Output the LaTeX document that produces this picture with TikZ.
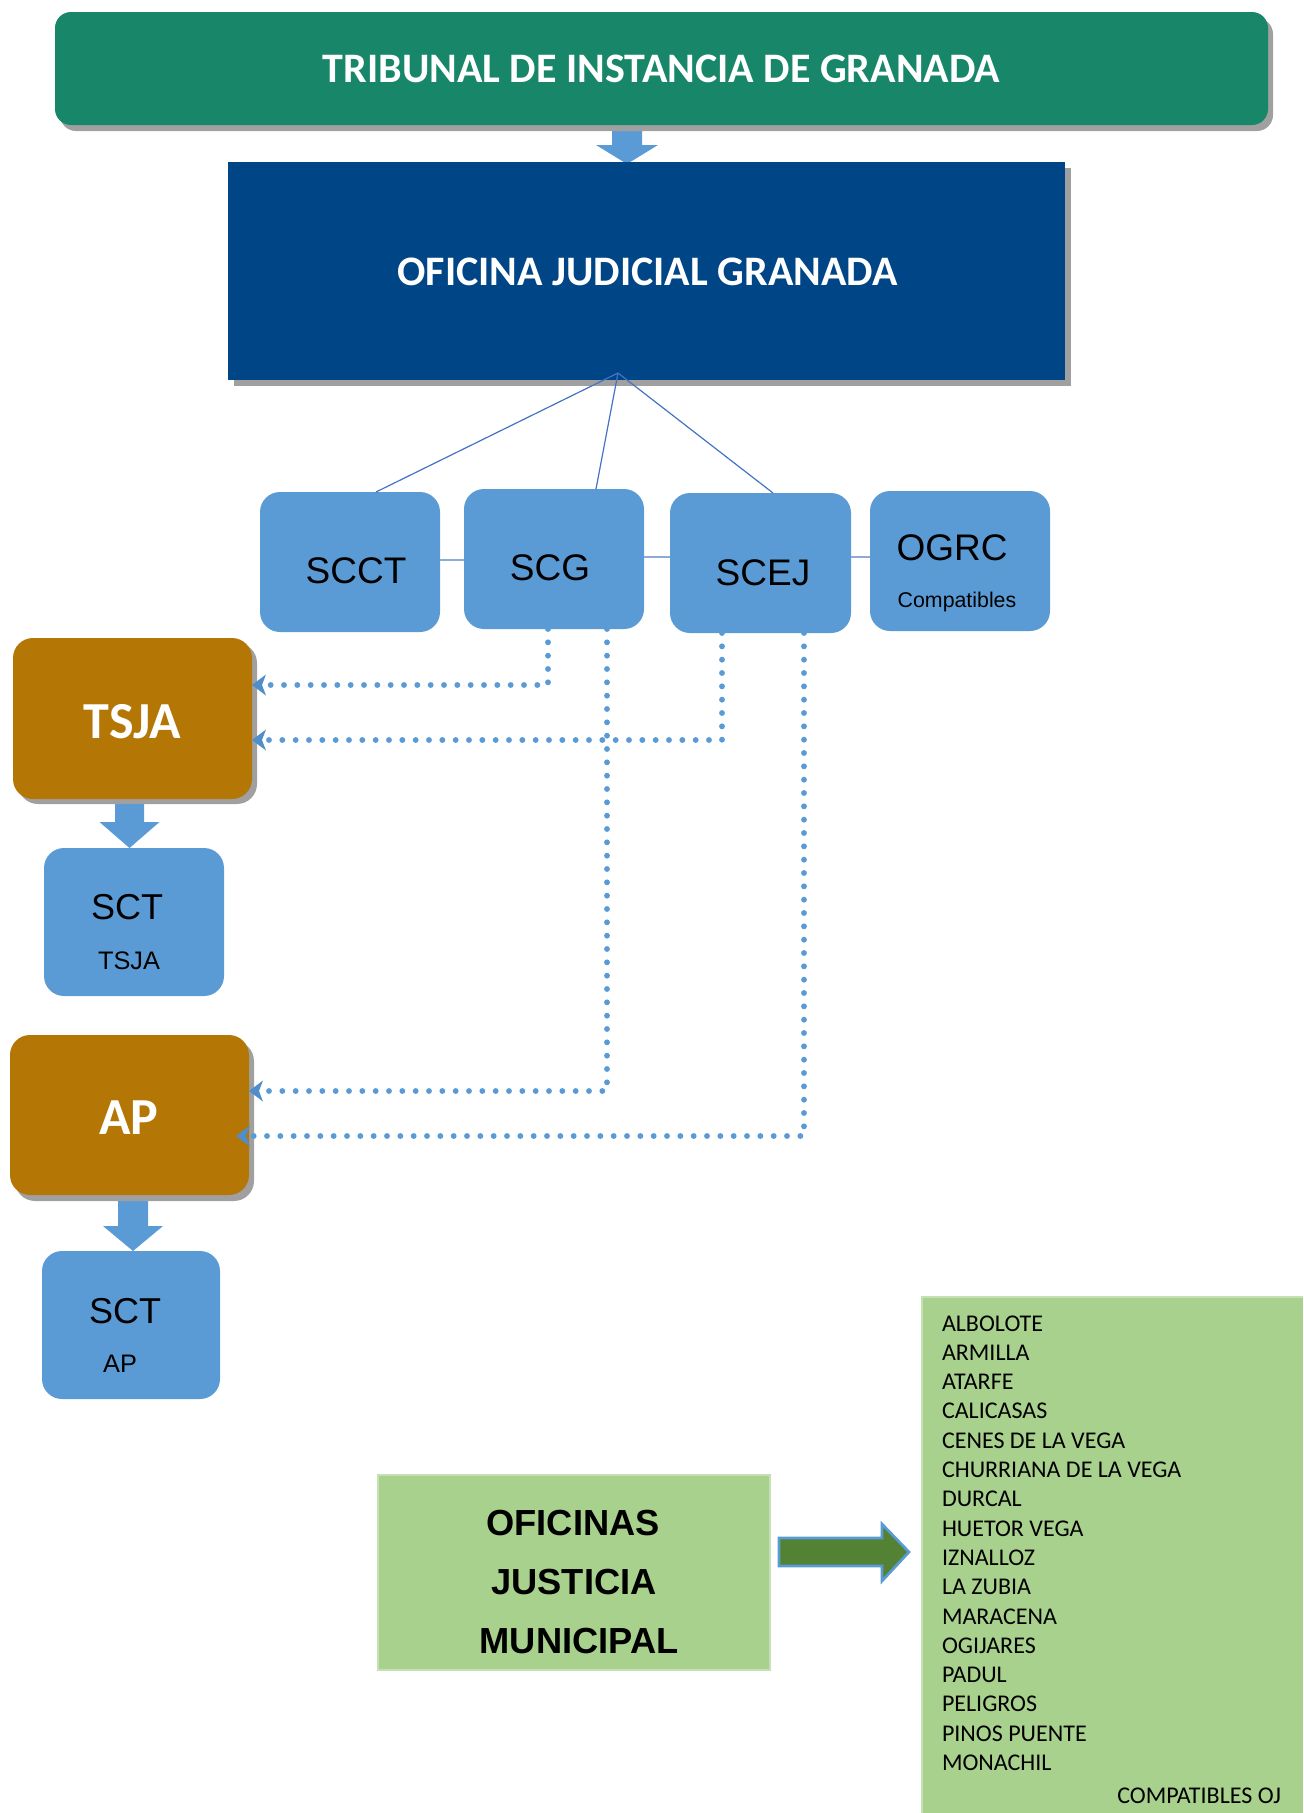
\documentclass[tikz,border=0pt]{standalone}
\usepackage{fontspec}
\newfontfamily\carl{Carlito}
\newfontfamily\arl{Liberation Sans}
\usetikzlibrary{shadows,calc}
\pgfdeclarelayer{bg}
\pgfsetlayers{bg,main}
\definecolor{tgreen}{HTML}{178669}
\definecolor{navy}{HTML}{004586}
\definecolor{lblue}{HTML}{5B9BD5}
\definecolor{tipblue}{HTML}{4F8ECA}
\definecolor{ochre}{HTML}{B47706}
\definecolor{shgray}{HTML}{A0A0A0}
\definecolor{lgreen}{HTML}{A9D18E}
\definecolor{lgborder}{HTML}{C5E0B4}
\definecolor{dgreen}{HTML}{548235}
\definecolor{lineblue}{HTML}{4472C4}
\definecolor{hlinec}{HTML}{8EAADB}
\begin{document}
\begin{tikzpicture}[x=0.75pt,y=-0.75pt,
  sz/.style 2 args={minimum width=#1*0.75pt, minimum height=#2*0.75pt, inner sep=0pt, outer sep=0pt},
  shad/.style 2 args={drop shadow={shadow xshift=#1*0.75pt, shadow yshift=-#2*0.75pt, fill=shgray, opacity=1}},
  sbox/.style={fill=lblue, rounded corners=15pt},
  ochbox/.style={fill=ochre, rounded corners=15pt},
  txt/.style={inner sep=0pt, outer sep=0pt, anchor=base},
  thinline/.style={draw=lineblue, line width=0.9pt},
  hconn/.style={draw=hlinec, line width=1.2pt},
  dotline/.style={draw=lblue, line width=4.4pt, line cap=round, dash pattern=on 0pt off 10pt},
  tipst/.style={fill=tipblue},
  bigw/.style={text=white, font=\carl\bfseries\fontsize{31.5}{36}\selectfont},
  ochw/.style={text=white, font=\carl\bfseries\fontsize{39}{44}\selectfont},
  sname/.style={font=\arl\fontsize{27.75}{32}\selectfont},
  ssub/.style={font=\arl\fontsize{19}{22}\selectfont},
  ojmtxt/.style={font=\arl\bfseries\fontsize{27.2}{32}\selectfont},
  itemtxt/.style={font=\carl\fontsize{18}{22}\selectfont}
]
\useasboundingbox (0,0) rectangle (1303,1813);

% boxes
\node[sz={1213}{113}, fill=tgreen, rounded corners=12pt, shad={5}{6}] (trib) at (661.5,68.5) {};
\node[sz={837}{218}, fill=navy, shad={6}{6}] (ojg) at (646.5,271) {};
\node[sz={180}{140}, sbox] (scct) at (350,562) {};
\node[sz={180}{140}, sbox] (scg) at (554,559) {};
\node[sz={181}{140}, sbox] (scej) at (760.5,563) {};
\node[sz={180}{140}, sbox] (ogrc) at (960,561) {};
\node[sz={239}{161}, ochbox, shad={5}{5}] (tsja) at (132.5,718.5) {};
\node[sz={180}{148}, sbox] (sct1) at (134,922) {};
\node[sz={239}{160}, ochbox, shad={5}{6}] (ap) at (129.5,1115) {};
\node[sz={178}{148}, sbox] (sct2) at (131,1325) {};
\node[sz={392}{195}, fill=lgreen, draw=lgborder, line width=1.5pt] (ojm) at (574,1572.5) {};
\node[sz={381}{516}, fill=lgreen] (list) at (1112.5,1555) {};
\draw[lgborder, line width=2pt] (list.south west) -- (list.north west) -- (list.north east);

% texts
\node[txt, bigw] (tribt) at (661.5,82.7) {TRIBUNAL DE INSTANCIA DE GRANADA};
\node[txt, bigw] (ojgt) at (647.5,285) {OFICINA JUDICIAL GRANADA};
\node[txt, sname] (scctt) at (356,583) {SCCT};
\node[txt, sname] (scgt) at (550,580) {SCG};
\node[txt, sname] (scejt) at (763,585) {SCEJ};
\node[txt, sname] (ogrct) at (952,560.7) {OGRC};
\node[txt, font=\arl\fontsize{16}{19}\selectfont] (compt) at (957,607) {Compatibles};
\node[txt, ochw] (tsjat) at (132.5,738) {TSJA};
\node[txt, font=\arl\fontsize{27}{32}\selectfont] (sct1t) at (127,919) {SCT};
\node[txt, ssub] (sct1s) at (129,969) {TSJA};
\node[txt, ochw] (apt) at (129,1134) {AP};
\node[txt, font=\arl\fontsize{27}{32}\selectfont] (sct2t) at (125,1323) {SCT};
\node[txt, ssub] (sct2s) at (120,1372) {AP};
\node[txt, ojmtxt] (ojm1) at (573,1535.6) {OFICINAS};
\node[txt, ojmtxt] (ojm2) at (574,1594.4) {JUSTICIA};
\node[txt, ojmtxt] (ojm3) at (579,1653.9) {MUNICIPAL};
\foreach \t [count=\i from 0] in {ALBOLOTE,ARMILLA,ATARFE,CALICASAS,CENES DE LA VEGA,CHURRIANA DE LA VEGA,DURCAL,HUETOR VEGA,IZNALLOZ,LA ZUBIA,MARACENA,OGIJARES,PADUL,PELIGROS,PINOS PUENTE,MONACHIL}
  \node[txt, anchor=base west, itemtxt] (item\i) at (942,{1331+29.3*\i}) {\t};
\node[txt, anchor=base east, itemtxt] (compoj) at (1281,1803) {COMPATIBLES OJ};

% block arrows (behind boxes)
\begin{pgfonlayer}{bg}
\coordinate (a1s) at ($(trib.south)+(-34.5,4)$);
\coordinate (a1e) at ($(ojg.north)+(-19.5,2)$);
\fill[lblue] ($(a1s)+(-15,0)$) -- ($(a1s)+(15,0)$) -- ($(a1e)+(15,-19)$) -- ($(a1e)+(31,-19)$) -- (a1e) -- ($(a1e)+(-31,-19)$) -- ($(a1e)+(-15,-19)$) -- cycle;
\coordinate (a2s) at ($(tsja.south)+(-3,0)$);
\coordinate (a2e) at ($(sct1.north)+(-4.5,0)$);
\fill[lblue] ($(a2s)+(-14.5,0)$) -- ($(a2s)+(14.5,0)$) -- ($(a2e)+(14.5,-26)$) -- ($(a2e)+(30,-26)$) -- (a2e) -- ($(a2e)+(-30,-26)$) -- ($(a2e)+(-14.5,-26)$) -- cycle;
\coordinate (a3s) at ($(ap.south)+(3.5,0)$);
\coordinate (a3e) at ($(sct2.north)+(2,0)$);
\fill[lblue] ($(a3s)+(-15,0)$) -- ($(a3s)+(15,0)$) -- ($(a3e)+(15,-25)$) -- ($(a3e)+(30,-25)$) -- (a3e) -- ($(a3e)+(-30,-25)$) -- ($(a3e)+(-15,-25)$) -- cycle;
\end{pgfonlayer}

% thin lines from the judicial office
\coordinate (apex) at ($(ojg.south)+(-28.5,-7)$);
\draw[thinline] (apex) -- ($(scct.north)+(26,0)$);
\draw[thinline] (apex) -- ($(scg.north)+(42,0)$);
\draw[thinline] (apex) -- ($(scej.north)+(12.5,0)$);

% horizontal connectors
\draw[hconn] ($(scct.east)+(0,-2)$) -- ($(scg.west)+(0,1)$);
\draw[hconn] ($(scg.east)+(0,-2)$) -- ($(scej.west)+(0,-6)$);
\draw[hconn] ($(scej.east)+(0,-6)$) -- ($(ogrc.west)+(0,-4)$);

% dotted arrows
\coordinate (e1) at ($(tsja.east)+(0,-33.5)$);
\coordinate (e2) at ($(tsja.east)+(0,21.5)$);
\coordinate (e3) at ($(ap.east)+(0,-24)$);
\coordinate (e4) at ($(ap.east)+(-13,21)$);
\draw[dotline] ($(scg.south)+(-6,0)$) |- ($(e1)+(16,0)$);
\draw[dotline] ($(scej.south)+(-38.5,0)$) |- ($(e2)+(16,0)$);
\draw[dotline] ($(scg.south)+(53,0)$) |- ($(e3)+(16,0)$);
\draw[dotline] ($(scej.south)+(43.5,0)$) |- ($(e4)+(16,0)$);
\foreach \e in {e1,e2,e3,e4}
  \fill[tipst] (\e) -- ($(\e)+(14,-10.5)$) -- ($(\e)+(10,0)$) -- ($(\e)+(14,10.5)$) -- cycle;

% green block arrow
\filldraw[fill=dgreen, draw=lblue, line width=2pt] (779,1538) -- (882,1538) -- (882,1524) -- (909,1552) -- (882,1581) -- (882,1566) -- (779,1566) -- cycle;
\end{tikzpicture}
\end{document}
